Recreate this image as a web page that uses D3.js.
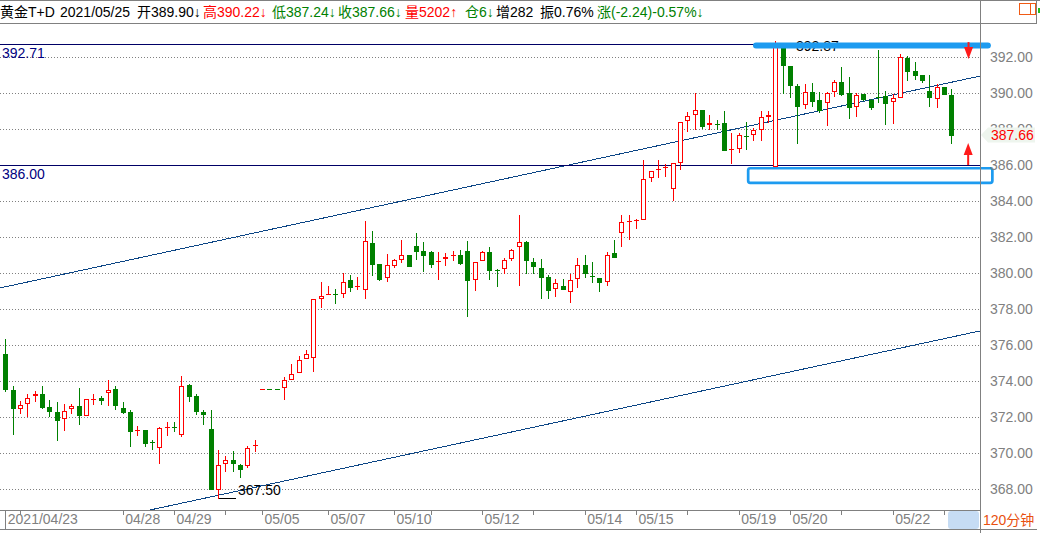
<!DOCTYPE html>
<html><head><meta charset="utf-8">
<script src="https://cdn.jsdelivr.net/npm/d3@7"></script>
<style>
html,body{margin:0;padding:0;background:#fff;}
svg{display:block;font-family:"Liberation Sans","Noto Sans CJK SC",sans-serif;}
</style></head><body>
<svg id="chart" width="1040" height="533"></svg>
<script>
// ---- data (120-minute bars) ----
const opens = [375.50,373.50,372.46,372.70,373.15,373.28,372.54,372.28,371.91,372.46,
372.61,372.07,372.94,373.06,373.31,373.54,372.50,372.28,371.28,371.28,
370.60,370.26,371.43,371.45,371.00,373.78,373.17,372.28,371.33,367.92,
369.37,369.61,369.33,369.26,370.42,373.55,373.56,373.56,373.59,374.04,
374.43,375.20,375.26,378.56,378.82,378.84,378.81,379.59,379.24,379.04,
381.67,380.50,379.71,380.37,380.70,381.00,381.50,381.22,381.17,380.63,
380.76,380.98,381.00,381.22,379.59,380.65,381.15,380.17,380.20,380.80,
381.43,381.72,380.61,380.26,379.76,379.09,379.28,378.93,379.65,380.45,
379.83,379.72,379.48,381.11,382.20,382.82,382.94,382.96,385.26,385.76,
385.82,384.65,386.09,388.43,388.76,389.06,388.20,388.30,388.33,386.85,
386.91,387.61,387.65,387.96,388.65,385.90,392.48,391.50,390.39,389.31,
390.06,389.61,389.43,390.04,390.61,389.98,389.20,389.93,389.59,389.78,
389.83,389.48,389.74,391.94,391.22,391.00,390.11,389.65,390.31,389.90];
const highs = [376.33,373.72,372.89,373.26,373.44,373.72,372.94,372.83,372.72,372.74,
373.61,372.98,373.28,373.17,374.06,373.74,372.83,372.39,371.52,371.28,
370.72,371.43,371.72,371.72,374.28,373.85,373.28,372.39,372.39,370.16,
369.83,370.11,369.41,370.39,370.72,373.56,373.56,373.56,374.22,374.94,
375.37,375.72,378.54,379.50,379.28,379.09,379.98,379.87,379.76,382.89,
382.33,380.50,381.06,380.76,381.82,381.00,382.22,381.72,381.22,381.15,
381.09,381.24,381.28,381.78,380.59,381.22,381.43,380.20,380.85,381.35,
383.22,381.78,380.82,380.76,379.89,379.67,379.67,379.94,380.83,381.00,
380.61,379.72,381.15,381.83,383.20,383.20,382.98,386.28,385.69,386.30,
386.05,386.09,388.37,388.93,389.98,389.06,388.76,388.48,389.00,387.76,
387.78,388.39,388.06,389.00,389.00,392.87,392.48,391.50,390.50,390.50,
390.54,390.06,390.06,390.74,391.45,390.91,390.00,389.96,389.65,392.39,
390.11,389.96,392.15,392.07,391.74,391.00,391.00,390.52,390.31,390.22];
const lows = [373.46,371.06,372.24,372.05,372.91,372.52,372.05,370.72,371.28,372.24,
371.61,372.07,372.72,372.72,372.69,372.46,372.20,370.41,371.02,370.41,
370.24,369.46,371.02,371.24,370.94,372.91,372.15,371.63,368.02,367.50,
369.02,369.02,368.68,369.20,370.13,373.55,373.55,373.55,372.98,374.04,
374.43,375.20,374.57,378.09,378.82,378.35,378.69,379.02,379.09,378.63,
379.91,379.63,379.57,380.32,380.59,380.41,380.80,380.13,380.35,379.69,
380.46,380.72,380.52,377.63,379.07,380.65,379.69,379.30,380.02,380.70,
379.35,380.00,380.02,378.63,378.59,378.74,379.13,378.41,379.24,379.76,
379.52,379.02,379.35,380.87,381.52,381.91,382.52,382.96,385.13,385.31,
385.41,384.06,385.78,387.89,387.98,388.07,387.98,387.98,386.83,386.13,
386.74,386.89,387.39,387.39,388.39,385.90,390.02,389.78,387.24,389.15,
389.26,388.93,388.24,389.82,389.89,388.63,388.74,389.63,389.09,389.52,
388.26,388.35,389.74,390.74,390.76,390.61,389.30,389.24,389.93,387.24];
const closes = [373.56,372.52,372.65,373.04,373.26,372.57,372.35,371.85,372.33,372.59,
372.13,372.98,373.00,372.96,373.50,372.69,372.30,371.24,371.30,370.57,
370.58,371.37,371.45,371.43,373.70,373.19,372.35,372.15,368.02,369.31,
369.59,369.46,369.13,370.26,370.44,373.56,373.55,373.55,374.04,374.37,
375.15,375.48,378.54,378.72,378.84,378.82,379.48,379.24,379.26,381.76,
380.52,379.69,380.43,380.70,380.98,380.41,381.24,381.02,380.52,380.65,
380.91,381.00,380.56,379.63,380.59,381.15,380.19,380.15,380.70,381.26,
381.70,380.74,380.41,379.80,379.07,379.43,379.13,379.61,380.43,380.00,
379.81,379.48,380.98,380.91,382.83,382.88,382.96,385.20,385.69,385.78,
385.91,386.09,388.37,388.70,389.04,388.17,388.31,388.28,386.83,386.87,
387.65,387.59,387.93,388.65,388.76,392.60,391.56,390.44,389.30,390.04,
389.57,389.07,389.98,390.59,389.93,389.20,389.91,389.69,389.24,389.76,
389.46,389.70,391.98,391.24,391.02,390.74,389.80,390.31,389.93,387.66];

const yTickValues = [368,370,372,374,376,378,380,382,384,386,388,390,392];
const xTickIndex  = [0,16,23,35,44,53,65,79,86,100,107,121];
const xTickLabels = ["2021/04/23","04/28","04/29","05/05","05/07","05/10","05/12","05/14","05/15","05/19","05/20","05/22"];
const xMinorTicks = [2,30,58,72,93,114,128];
const hLineValues = [392.71, 386.00];
const trendUpper = [[-0.72,379.17],[132.9,390.94]];
const trendLower = [[0,365.10],[132.9,376.78]];
const lastPrice = 387.66;
const lowMark = {i:29, v:367.50};
const highMark = {i:105, v:392.87};
const zoneBar = {i0:101.96, i1:134.4, p0:392.81, p1:392.47};
const zoneBox = {i0:101.3, i1:134.6, p0:385.82, p1:385.01};
const arrowDown = {i:131.35, from:392.83, to:391.89};
const arrowUp = {i:131.3, from:386.0, to:387.22};
const headerParts = [
 {t:"黄金T+D", x:0, c:"#000"},
 {t:"2021/05/25", x:60, c:"#000"},
 {t:"开389.90↓", x:137, c:"#000"},
 {t:"高390.22↓", x:203, c:"#f00"},
 {t:"低387.24↓", x:272, c:"#008000"},
 {t:"收387.66↓", x:338, c:"#008000"},
 {t:"量5202↑", x:405, c:"#f00"},
 {t:"仓6↓", x:465, c:"#008000"},
 {t:"增282", x:496, c:"#000"},
 {t:"振0.76%", x:540, c:"#000"},
 {t:"涨(-2.24)-0.57%↓", x:597, c:"#008000"}
];

// ---- scales ----
const x = d3.scaleLinear().domain([0,129]).range([5.3,951.3]);
const y = d3.scaleLinear().domain([368,392]).range([489,57]);
const px = v => Math.round(v);

const svg = d3.select("#chart");
const FONT = '"Liberation Sans","Noto Sans CJK SC",sans-serif';
svg.append("defs").append("clipPath").attr("id","plotClip")
  .append("rect").attr("x",0).attr("y",24).attr("width",980).attr("height",486);

// grid
svg.append("g").attr("shape-rendering","crispEdges")
  .selectAll("line").data(yTickValues).join("line")
  .attr("x1",0).attr("x2",980)
  .attr("y1",d=>px(y(d))+0.5).attr("y2",d=>px(y(d))+0.5)
  .attr("stroke","#808080").attr("stroke-dasharray","1,2");

// trend channel
svg.append("g").attr("clip-path","url(#plotClip)").attr("shape-rendering","crispEdges")
  .selectAll("line").data([trendUpper,trendLower]).join("line")
  .attr("x1",d=>x(d[0][0])).attr("y1",d=>y(d[0][1]))
  .attr("x2",d=>x(d[1][0])).attr("y2",d=>y(d[1][1]))
  .attr("stroke","#0b4585").attr("stroke-width",1);

// horizontal reference lines
svg.append("g").attr("shape-rendering","crispEdges")
  .selectAll("line").data(hLineValues).join("line")
  .attr("x1",0).attr("x2",980)
  .attr("y1",d=>px(y(d))+0.5).attr("y2",d=>px(y(d))+0.5)
  .attr("stroke","#000066");

// candles
const gC = svg.append("g").attr("clip-path","url(#plotClip)").attr("shape-rendering","crispEdges");
d3.range(opens.length).forEach(i=>{
  const o=opens[i], c=closes[i], h=highs[i], l=lows[i];
  const up = c>=o;
  const col = up ? "#ff0000" : "#008000";
  const R = px(x(i));
  const yh=px(y(h)), yl=px(y(l)), yo=px(y(o)), yc=px(y(c));
  const top=Math.min(yo,yc), bot=Math.max(yo,yc);
  const line=(x1,y1,x2,y2)=>gC.append("line").attr("x1",x1).attr("y1",y1).attr("x2",x2).attr("y2",y2).attr("stroke",col);
  if (bot-top<=1){
    if (yl>yh) line(R+0.5,yh,R+0.5,yl+1);
    line(R-2,top+0.5,R+3,top+0.5);
  } else if (up){
    if (top>yh) line(R+0.5,yh,R+0.5,top);
    if (yl>bot) line(R+0.5,bot,R+0.5,yl+1);
    gC.append("rect").attr("x",R-1.5).attr("y",top+0.5).attr("width",4).attr("height",bot-top-1)
      .attr("fill","#fff").attr("stroke",col);
  } else {
    line(R+0.5,yh,R+0.5,yl+1);
    gC.append("rect").attr("x",R-2).attr("y",top).attr("width",5).attr("height",bot-top+1).attr("fill",col);
  }
});

// left labels of reference lines
svg.append("g").selectAll("text").data(hLineValues).join("text")
  .attr("x",2).attr("y",d=>px(y(d))+14)
  .attr("fill","#000080").style("font-size","14px").style("font-family",FONT)
  .text(d=>d.toFixed(2));

// low / high marks
svg.append("line").attr("shape-rendering","crispEdges")
  .attr("x1",px(x(lowMark.i))+1).attr("x2",px(x(lowMark.i))+18)
  .attr("y1",px(y(lowMark.v))+0.5).attr("y2",px(y(lowMark.v))+0.5).attr("stroke","#000");
svg.append("text").attr("x",px(x(lowMark.i))+20).attr("y",px(y(lowMark.v))-3)
  .style("font-size","14px").style("font-family",FONT).attr("fill","#000").text(lowMark.v.toFixed(2));
svg.append("text").attr("x",px(x(highMark.i))+21).attr("y",51)
  .style("font-size","14px").style("font-family",FONT).attr("fill","#000").text(highMark.v.toFixed(2));

// blue highlight zones
const BLUE="#1d9bf0";
svg.append("rect").attr("x",x(zoneBar.i0)).attr("y",y(zoneBar.p0))
  .attr("width",x(zoneBar.i1)-x(zoneBar.i0)).attr("height",y(zoneBar.p1)-y(zoneBar.p0))
  .attr("rx",3).attr("fill",BLUE);
svg.append("rect").attr("x",x(zoneBox.i0)).attr("y",y(zoneBox.p0))
  .attr("width",x(zoneBox.i1)-x(zoneBox.i0)).attr("height",y(zoneBox.p1)-y(zoneBox.p0))
  .attr("rx",2).attr("fill","none").attr("stroke",BLUE).attr("stroke-width",2.7);

// red arrows
function arrow(a){
  const cx=x(a.i), y0=y(a.from), y1=y(a.to);
  const dir = y1>y0 ? 1 : -1;
  const headLen=12;
  svg.append("line").attr("x1",cx).attr("x2",cx).attr("y1",y0).attr("y2",y1-dir*headLen+dir)
    .attr("stroke","#ff1a1a").attr("stroke-width",2);
  svg.append("path").attr("d",`M${cx-4.5},${y1-dir*headLen} L${cx+4.5},${y1-dir*headLen} L${cx},${y1} Z`)
    .attr("fill","#ff1a1a");
}
arrow(arrowDown); arrow(arrowUp);

// frame lines
const frame = svg.append("g").attr("stroke","#808080").attr("shape-rendering","crispEdges");
frame.append("line").attr("x1",0).attr("x2",1040).attr("y1",0.5).attr("y2",0.5);
frame.append("line").attr("x1",0).attr("x2",1037).attr("y1",23.5).attr("y2",23.5);
frame.append("line").attr("x1",980.5).attr("x2",980.5).attr("y1",0).attr("y2",533);
frame.append("line").attr("x1",1036.5).attr("x2",1036.5).attr("y1",0).attr("y2",23);
frame.append("line").attr("x1",0).attr("x2",980).attr("y1",510.5).attr("y2",510.5);
frame.append("line").attr("x1",0).attr("x2",1037).attr("y1",529.5).attr("y2",529.5);
frame.append("line").attr("x1",5.5).attr("x2",5.5).attr("y1",510).attr("y2",529);

// right axis
const yAxis = d3.axisRight(y).tickValues(yTickValues).tickFormat(d=>d.toFixed(2)).tickSize(0).tickPadding(10);
const gy = svg.append("g").attr("transform","translate(980,0)").call(yAxis);
gy.select(".domain").remove();
gy.selectAll("text").attr("fill","#808080").style("font-size","14px").style("font-family",FONT);

// last price label
const yp = y(lastPrice);
svg.append("path").attr("d",`M981,${yp} L988,${yp-7.5} L1035,${yp-7.5} L1035,${yp+7.5} L988,${yp+7.5} Z`)
  .attr("fill","#eef5ee");
svg.append("text").attr("x",991).attr("y",yp).attr("dy","0.36em").attr("fill","#ff0000")
  .style("font-size","14px").style("font-family",FONT).text(lastPrice.toFixed(2));

// bottom axis
const xAxis = d3.axisBottom(x).tickValues(xTickIndex).tickFormat((d,k)=>xTickLabels[k]).tickSize(5);
const gx = svg.append("g").attr("transform","translate(0,510)").call(xAxis);
gx.select(".domain").remove();
gx.selectAll(".tick line").attr("stroke","#808080").attr("shape-rendering","crispEdges");
gx.selectAll("text").attr("text-anchor","start").attr("x",2).attr("y",14).attr("dy",0)
  .attr("fill","#808080").style("font-size","14px").style("font-family",FONT);
const gx2 = svg.append("g").attr("transform","translate(0,510)")
  .call(d3.axisBottom(x).tickValues(xMinorTicks).tickFormat("").tickSize(5));
gx2.select(".domain").remove();
gx2.selectAll(".tick line").attr("stroke","#808080").attr("shape-rendering","crispEdges");

// period box
svg.append("rect").attr("x",948).attr("y",511).attr("width",31).attr("height",18).attr("rx",3).attr("fill","#c6dcf4");
svg.append("text").attr("x",983).attr("y",525).attr("fill","#e8500f")
  .style("font-size","14px").style("font-family",FONT).text("120分钟");

// header
const hdr = svg.append("text").attr("y",17).style("font-size","14px").style("font-family",FONT);
headerParts.forEach(p=>hdr.append("tspan").attr("x",p.x).attr("fill",p.c).text(p.t));

// top-right icon
svg.append("rect").attr("x",1019.5).attr("y",3.5).attr("width",16).attr("height",11)
  .attr("fill","none").attr("stroke","#f05a14").attr("shape-rendering","crispEdges");
svg.append("line").attr("x1",1030.5).attr("x2",1030.5).attr("y1",3.5).attr("y2",14.5)
  .attr("stroke","#f05a14").attr("shape-rendering","crispEdges");
svg.append("rect").attr("x",1038).attr("y",8).attr("width",2).attr("height",5).attr("fill","#20c020");
</script>
</body></html>
